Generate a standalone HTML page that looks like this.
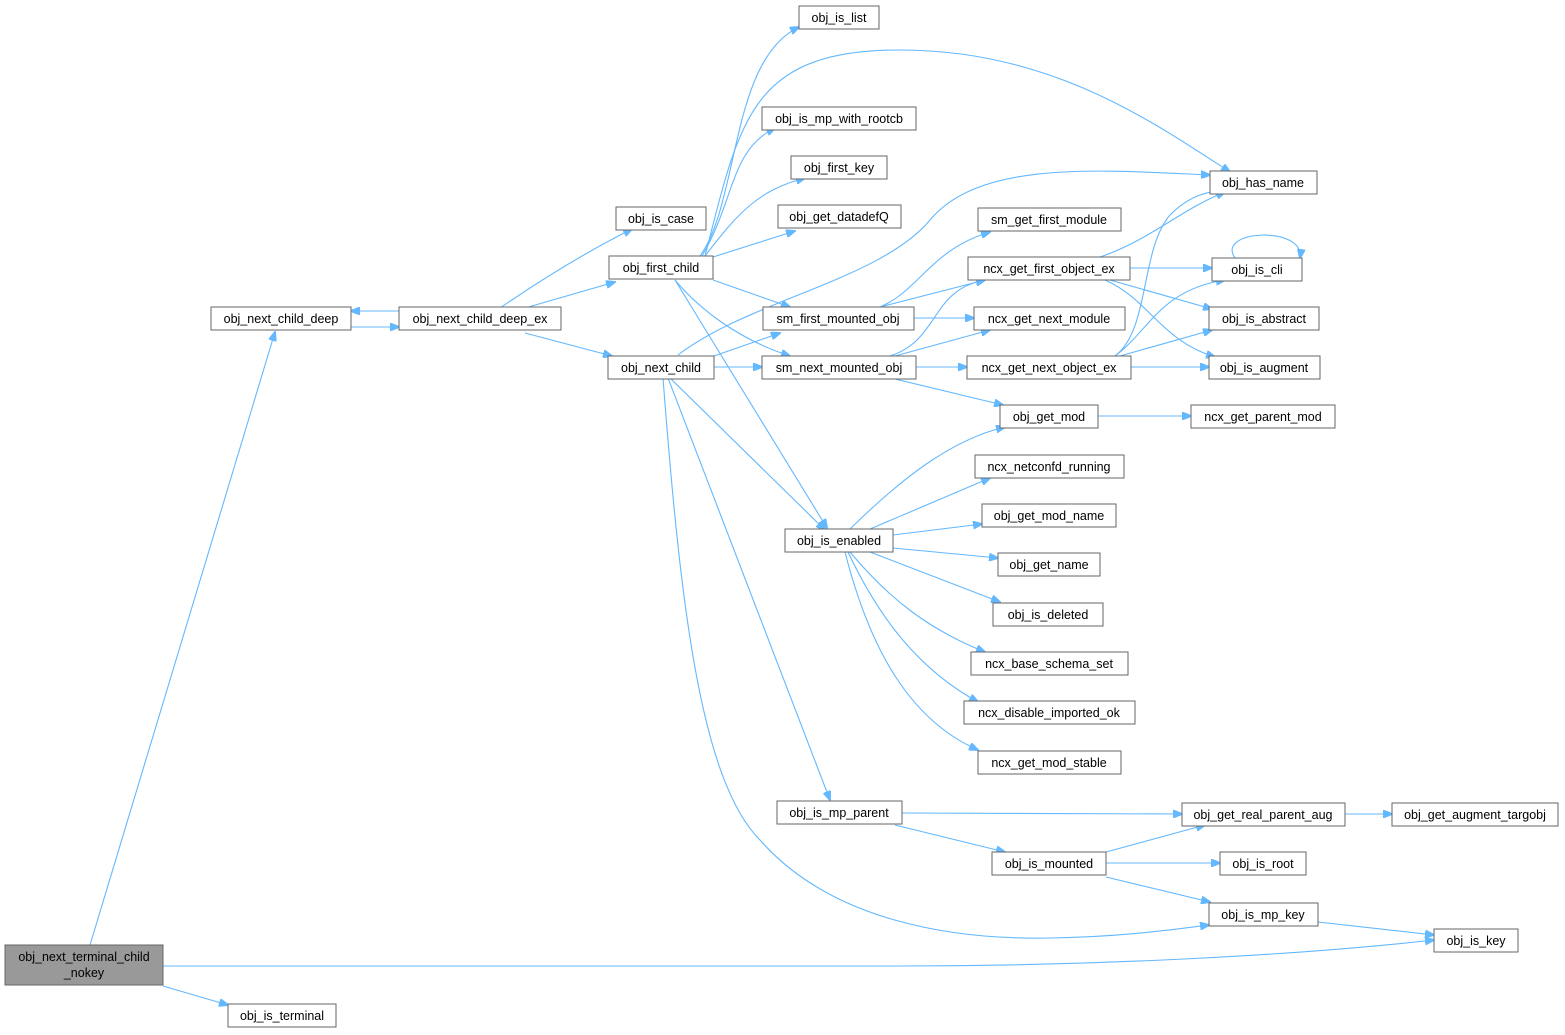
<!DOCTYPE html>
<html><head><meta charset="utf-8"><style>
html,body{margin:0;padding:0;background:#fff;}
svg{display:block;font-family:"Liberation Sans",Arial,sans-serif;}
rect{fill:#fff;stroke:#666;stroke-width:1;}
text{font-size:12.5px;fill:#000;text-anchor:middle;}
path{fill:none;stroke:#63b8ff;stroke-width:1.1;}
</style></head><body>
<svg width="1565" height="1035" viewBox="0 0 1565 1035">
<defs><marker id="a" markerWidth="10" markerHeight="8" refX="9" refY="4" orient="auto" markerUnits="userSpaceOnUse"><path d="M0,0 L10,4 L0,8 Z" style="fill:#63b8ff;stroke:#63b8ff"/></marker></defs>
<g marker-end="url(#a)">
<path d="M90,945 L275,332"/>
<path d="M163,966 L900,966 C1100,966 1300,955 1434,940"/>
<path d="M163,986 L228,1005"/>
<path d="M351,327 L399,327"/>
<path d="M399,311 L351,311"/>
<path d="M500,308 Q570,260 632,229"/>
<path d="M525,308 L615,282"/>
<path d="M525,333 L612,356"/>
<path d="M700,256 C740,200 730,60 799,27"/>
<path d="M705,256 C740,120 750,50 900,50 C1050,50 1150,120 1230,172"/>
<path d="M702,256 C735,200 730,150 775,128"/>
<path d="M705,256 C740,210 760,190 805,178"/>
<path d="M713,257 L795,231"/>
<path d="M713,280 L790,307"/>
<path d="M675,280 C700,310 740,340 790,356"/>
<path d="M675,280 L827,528"/>
<path d="M678,355 C750,300 880,280 930,220 C980,160 1100,170 1210,175"/>
<path d="M714,356 L780,333"/>
<path d="M714,367 L762,367"/>
<path d="M670,378 L825,530"/>
<path d="M668,378 L830,800"/>
<path d="M663,378 C680,600 700,780 760,840 C830,920 950,940 1050,938 C1120,937 1170,930 1209,925"/>
<path d="M880,307 C920,290 930,250 990,232"/>
<path d="M880,307 L985,280"/>
<path d="M914,318 L974,318"/>
<path d="M890,356 C940,340 930,290 985,280"/>
<path d="M895,356 L990,330"/>
<path d="M916,367 L967,367"/>
<path d="M895,379 L1003,405"/>
<path d="M1100,257 C1150,240 1180,210 1225,192"/>
<path d="M1130,268 L1212,268"/>
<path d="M1110,280 L1212,309"/>
<path d="M1105,280 C1150,300 1160,340 1215,357"/>
<path d="M1115,356 C1150,330 1140,250 1170,215 C1190,195 1210,190 1225,192"/>
<path d="M1115,356 C1150,330 1160,290 1225,280"/>
<path d="M1120,356 L1212,330"/>
<path d="M1131,367 L1209,367"/>
<path d="M1235,258 C1215,230 1305,225 1300,258"/>
<path d="M1098,416 L1191,416"/>
<path d="M850,529 C900,480 950,440 1005,427"/>
<path d="M870,529 L990,478"/>
<path d="M893,535 L982,524"/>
<path d="M893,548 L998,558"/>
<path d="M870,552 L1000,602"/>
<path d="M850,552 C890,600 930,630 985,652"/>
<path d="M848,552 C880,620 920,670 978,702"/>
<path d="M845,552 C870,650 910,720 978,750"/>
<path d="M902,813 L1182,814"/>
<path d="M895,825 L1005,852"/>
<path d="M1106,852 L1205,825"/>
<path d="M1106,863 L1220,863"/>
<path d="M1106,877 L1210,902"/>
<path d="M1345,814 L1392,814"/>
<path d="M1318,922 L1434,935"/>
</g>
<rect x="5" y="945" width="158" height="40" style="fill:#999"/>
<text x="84" y="961">obj_next_terminal_child</text><text x="84" y="977">_nokey</text>
<g id="n"></g>
<rect x="228" y="1004" width="108" height="23"/><text x="282" y="1020">obj_is_terminal</text>
<rect x="211" y="307" width="140" height="23"/><text x="281" y="323">obj_next_child_deep</text>
<rect x="399" y="307" width="162" height="23"/><text x="480" y="323">obj_next_child_deep_ex</text>
<rect x="616" y="207" width="90" height="23"/><text x="661" y="223">obj_is_case</text>
<rect x="609" y="256" width="104" height="23"/><text x="661" y="272">obj_first_child</text>
<rect x="608" y="356" width="106" height="23"/><text x="661" y="372">obj_next_child</text>
<rect x="799" y="6" width="80" height="23"/><text x="839" y="22">obj_is_list</text>
<rect x="762" y="107" width="154" height="23"/><text x="839" y="123">obj_is_mp_with_rootcb</text>
<rect x="791" y="156" width="96" height="23"/><text x="839" y="172">obj_first_key</text>
<rect x="778" y="205" width="123" height="23"/><text x="839" y="221">obj_get_datadefQ</text>
<rect x="763" y="307" width="151" height="23"/><text x="838" y="323">sm_first_mounted_obj</text>
<rect x="762" y="356" width="154" height="23"/><text x="839" y="372">sm_next_mounted_obj</text>
<rect x="785" y="529" width="108" height="23"/><text x="839" y="545">obj_is_enabled</text>
<rect x="777" y="801" width="125" height="23"/><text x="839" y="817">obj_is_mp_parent</text>
<rect x="1210" y="171" width="107" height="23"/><text x="1263" y="187">obj_has_name</text>
<rect x="978" y="208" width="143" height="23"/><text x="1049" y="224">sm_get_first_module</text>
<rect x="968" y="257" width="162" height="23"/><text x="1049" y="273">ncx_get_first_object_ex</text>
<rect x="974" y="307" width="151" height="23"/><text x="1049" y="323">ncx_get_next_module</text>
<rect x="967" y="356" width="164" height="23"/><text x="1049" y="372">ncx_get_next_object_ex</text>
<rect x="1000" y="405" width="98" height="23"/><text x="1049" y="421">obj_get_mod</text>
<rect x="975" y="455" width="149" height="23"/><text x="1049" y="471">ncx_netconfd_running</text>
<rect x="982" y="504" width="134" height="23"/><text x="1049" y="520">obj_get_mod_name</text>
<rect x="998" y="553" width="102" height="23"/><text x="1049" y="569">obj_get_name</text>
<rect x="993" y="603" width="110" height="23"/><text x="1048" y="619">obj_is_deleted</text>
<rect x="971" y="652" width="157" height="23"/><text x="1049" y="668">ncx_base_schema_set</text>
<rect x="964" y="701" width="171" height="23"/><text x="1049" y="717">ncx_disable_imported_ok</text>
<rect x="978" y="751" width="143" height="23"/><text x="1049" y="767">ncx_get_mod_stable</text>
<rect x="992" y="852" width="114" height="23"/><text x="1049" y="868">obj_is_mounted</text>
<rect x="1212" y="258" width="90" height="23"/><text x="1257" y="274">obj_is_cli</text>
<rect x="1209" y="307" width="110" height="23"/><text x="1264" y="323">obj_is_abstract</text>
<rect x="1209" y="356" width="111" height="23"/><text x="1264" y="372">obj_is_augment</text>
<rect x="1191" y="405" width="144" height="23"/><text x="1263" y="421">ncx_get_parent_mod</text>
<rect x="1182" y="803" width="163" height="23"/><text x="1263" y="819">obj_get_real_parent_aug</text>
<rect x="1220" y="852" width="86" height="23"/><text x="1263" y="868">obj_is_root</text>
<rect x="1209" y="903" width="109" height="23"/><text x="1263" y="919">obj_is_mp_key</text>
<rect x="1392" y="803" width="166" height="23"/><text x="1475" y="819">obj_get_augment_targobj</text>
<rect x="1434" y="929" width="84" height="23"/><text x="1476" y="945">obj_is_key</text>
</svg>
</body></html>
